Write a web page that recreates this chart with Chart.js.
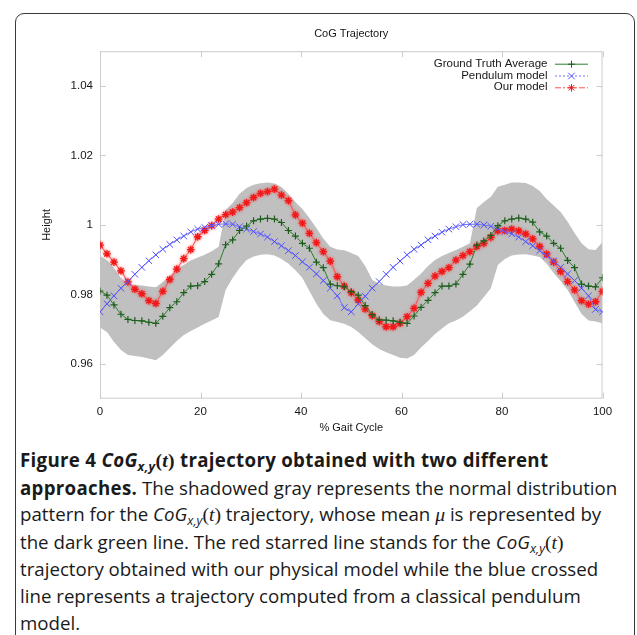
<!DOCTYPE html>
<html>
<head>
<meta charset="utf-8">
<script src="https://cdn.jsdelivr.net/npm/chart.js@4.4.0/dist/chart.umd.min.js"></script>
<style>
    html, body {
        margin: 0;
        padding: 0;
        width: 637px;
        height: 635px;
        overflow: hidden;
        background: #fff;
    }
    .figure-box {
        position: absolute;
        left: 15px;
        top: 13px;
        width: 618px;
        height: 660px;
        border: 1px solid #3a3a3a;
        border-radius: 9px;
    }
    #cogChart {
        position: absolute;
        left: 0;
        top: 0;
    }
    .caption {
        position: absolute;
        left: 20px;
        top: 447px;
        font-family: "Open Sans", Lato, sans-serif;
        font-size: 18.7px;
        line-height: 26.6px;
        color: #1a1a1a;
        white-space: nowrap;
    }
    .caption b {
        letter-spacing: 0.3px;
    }
    .caption sub {
        font-size: 0.68em;
        vertical-align: -0.28em;
        line-height: 0;
    }
    .caption .m {
        font-family: "Liberation Serif", "DejaVu Serif", serif;
        font-size: 1.05em;
    }
</style>
</head>
<body>
<div class="figure-box"></div>
<canvas id="cogChart" width="637" height="440"></canvas>
<div class="caption">
    <b>Figure 4 <i>CoG<sub>x,y</sub></i><span class="m">(<i>t</i>)</span> trajectory obtained with two different</b><br>
    <b>approaches.</b> The shadowed gray represents the normal distribution<br>
    pattern for the <i>CoG<sub>x,y</sub></i><span class="m">(<i>t</i>)</span> trajectory, whose mean <i class="m">μ</i> is represented by<br>
    the dark green line. The red starred line stands for the <i>CoG<sub>x,y</sub></i><span class="m">(<i>t</i>)</span><br>
    trajectory obtained with our physical model while the blue crossed<br>
    line represents a trajectory computed from a classical pendulum<br>
    model.
</div>
<script>
// % of the gait cycle for each sample
const gaitCycle = [
    0, 1.39, 2.78, 4.17, 5.56, 6.94, 8.33, 9.72, 11.11, 12.5,
    13.89, 15.28, 16.67, 18.06, 19.44, 20.83, 22.22, 23.61, 25, 26.39,
    27.78, 29.17, 30.56, 31.94, 33.33, 34.72, 36.11, 37.5, 38.89, 40.28,
    41.67, 43.06, 44.44, 45.83, 47.22, 48.61, 50, 51.39, 52.78, 54.17,
    55.56, 56.94, 58.33, 59.72, 61.11, 62.5, 63.89, 65.28, 66.67, 68.06,
    69.44, 70.83, 72.22, 73.61, 75, 76.39, 77.78, 79.17, 80.56, 81.94,
    83.33, 84.72, 86.11, 87.5, 88.89, 90.28, 91.67, 93.06, 94.44, 95.83,
    97.22, 98.61, 100
];

// Ground truth mean height
const groundTruth = [
    0.9810, 0.9798, 0.9770, 0.9743, 0.9728, 0.9725, 0.9724, 0.9720, 0.9717, 0.9737,
    0.9762, 0.9779, 0.9805, 0.9824, 0.9825, 0.9837, 0.9858, 0.9888, 0.9943, 0.9957,
    0.9984, 0.9997, 1.0012, 1.0017, 1.0019, 1.0017, 1.0007, 0.9984, 0.9968, 0.9947,
    0.9933, 0.9893, 0.9877, 0.9830, 0.9825, 0.9822, 0.9808, 0.9798, 0.9768, 0.9742,
    0.9727, 0.9726, 0.9724, 0.9720, 0.9717, 0.9738, 0.9763, 0.9783, 0.9805, 0.9824,
    0.9824, 0.9830, 0.9858, 0.9887, 0.9942, 0.9954, 0.9970, 0.9998, 1.0012, 1.0017,
    1.0020, 1.0017, 1.0008, 0.9980, 0.9968, 0.9947, 0.9933, 0.9898, 0.9877, 0.9830,
    0.9824, 0.9822, 0.9848
];

// Classical inverted pendulum
const pendulum = [
    0.9750, 0.9773, 0.9796, 0.9818, 0.9837, 0.9858, 0.9878, 0.9897, 0.9914, 0.9930,
    0.9944, 0.9957, 0.9968, 0.9980, 0.9988, 0.9993, 0.9998, 1.0002, 1.0003, 1.0002,
    0.9995, 0.9988, 0.9981, 0.9974, 0.9965, 0.9952, 0.9940, 0.9926, 0.9912, 0.9894,
    0.9878, 0.9859, 0.9840, 0.9818, 0.9796, 0.9762, 0.9750, 0.9773, 0.9795, 0.9818,
    0.9837, 0.9858, 0.9878, 0.9896, 0.9914, 0.9930, 0.9942, 0.9957, 0.9968, 0.9979,
    0.9988, 0.9995, 1.0001, 1.0002, 1.0002, 1.0000, 0.9996, 0.9989, 0.9981, 0.9974,
    0.9965, 0.9952, 0.9940, 0.9926, 0.9912, 0.9896, 0.9878, 0.9859, 0.9840, 0.9818,
    0.9796, 0.9757, 0.9750
];

// Physical model output
const ourModel = [
    0.9942, 0.9917, 0.9893, 0.9868, 0.9836, 0.9815, 0.9802, 0.9782, 0.9774, 0.9809,
    0.9843, 0.9873, 0.9903, 0.9929, 0.9966, 0.9984, 0.9998, 1.0017, 1.0030, 1.0037,
    1.0050, 1.0064, 1.0079, 1.0091, 1.0096, 1.0103, 1.0086, 1.0070, 1.0029, 1.0005,
    0.9976, 0.9949, 0.9923, 0.9896, 0.9851, 0.9824, 0.9805, 0.9784, 0.9758, 0.9739,
    0.9722, 0.9707, 0.9707, 0.9717, 0.9736, 0.9760, 0.9806, 0.9832, 0.9853, 0.9866,
    0.9877, 0.9899, 0.9912, 0.9923, 0.9938, 0.9947, 0.9964, 0.9983, 0.9984, 0.9988,
    0.9983, 0.9974, 0.9960, 0.9938, 0.9916, 0.9893, 0.9866, 0.9837, 0.9813, 0.9782,
    0.9772, 0.9779, 0.9809
];

// Normal distribution band (upper / lower edge)
const bandUpper = [
    0.9911, 0.9899, 0.9876, 0.9847, 0.9830, 0.9827, 0.9826, 0.9823, 0.9821, 0.9836,
    0.9853, 0.9873, 0.9885, 0.9898, 0.9906, 0.9914, 0.9924, 0.9937, 1.0043, 1.0063,
    1.0090, 1.0106, 1.0116, 1.0120, 1.0122, 1.0119, 1.0109, 1.0089, 1.0066, 1.0046,
    1.0020, 0.9991, 0.9961, 0.9937, 0.9929, 0.9927, 0.9919, 0.9911, 0.9882, 0.9842,
    0.9830, 0.9826, 0.9823, 0.9823, 0.9826, 0.9842, 0.9860, 0.9882, 0.9899, 0.9911,
    0.9919, 0.9928, 0.9937, 0.9947, 1.0049, 1.0066, 1.0081, 1.0110, 1.0116, 1.0122,
    1.0122, 1.0121, 1.0112, 1.0098, 1.0075, 1.0056, 1.0037, 1.0009, 0.9977, 0.9947,
    0.9930, 0.9928, 0.9951
];
const bandLower = [
    0.9705, 0.9692, 0.9663, 0.9640, 0.9626, 0.9623, 0.9620, 0.9616, 0.9611, 0.9626,
    0.9646, 0.9666, 0.9683, 0.9695, 0.9705, 0.9716, 0.9725, 0.9735, 0.9813, 0.9847,
    0.9876, 0.9899, 0.9909, 0.9914, 0.9916, 0.9912, 0.9902, 0.9888, 0.9870, 0.9847,
    0.9810, 0.9773, 0.9744, 0.9726, 0.9721, 0.9716, 0.9706, 0.9692, 0.9674, 0.9657,
    0.9643, 0.9634, 0.9626, 0.9618, 0.9616, 0.9626, 0.9647, 0.9666, 0.9686, 0.9702,
    0.9717, 0.9725, 0.9736, 0.9752, 0.9768, 0.9793, 0.9818, 0.9885, 0.9902, 0.9912,
    0.9915, 0.9916, 0.9912, 0.9908, 0.9888, 0.9862, 0.9839, 0.9813, 0.9778, 0.9744,
    0.9725, 0.9722, 0.9717
];

// Axis ticks
const xTicks = [0, 20, 40, 60, 80, 100];
const xTickLabels = ["0", "20", "40", "60", "80", "100"];
const yTicks = [0.96, 0.98, 1, 1.02, 1.04];
const yTickLabels = ["0.96", "0.98", "1", "1.02", "1.04"];

const FONT = '"Liberation Sans", Arial, Helvetica, sans-serif';
const TEXT_COLOR = "#161616";

// Pair x samples with a series
function toPoints(values) {
    return values.map((v, i) => ({ x: gaitCycle[i], y: v }));
}

// Light gray frame with inward tick marks on all four sides
const plotFrame = {
    id: "plotFrame",
    beforeDatasetsDraw(chart) {
        const { ctx, chartArea: a, scales } = chart;
        ctx.save();
        ctx.strokeStyle = "#cccccc";
        ctx.lineWidth = 1;
        ctx.strokeRect(a.left + 0.5, a.top + 0.5, a.right - a.left - 1, a.bottom - a.top - 1);
        ctx.beginPath();
        scales.x.ticks.forEach((t) => {
            const px = Math.round(scales.x.getPixelForValue(t.value)) + 0.5;
            ctx.moveTo(px, a.bottom);
            ctx.lineTo(px, a.bottom - 6);
            ctx.moveTo(px, a.top);
            ctx.lineTo(px, a.top + 6);
        });
        scales.y.ticks.forEach((t) => {
            const py = Math.round(scales.y.getPixelForValue(t.value)) + 0.5;
            ctx.moveTo(a.left, py);
            ctx.lineTo(a.left + 6, py);
            ctx.moveTo(a.right, py);
            ctx.lineTo(a.right - 6, py);
        });
        ctx.stroke();
        ctx.restore();
    },
    // soft glow round the starred points
    beforeDatasetDraw(chart, args) {
        const ds = chart.data.datasets[args.index];
        if (ds.glow) {
            chart.ctx.save();
            chart.ctx.shadowColor = ds.glow;
            chart.ctx.shadowBlur = 3;
        }
    },
    afterDatasetDraw(chart, args) {
        if (chart.data.datasets[args.index].glow) chart.ctx.restore();
    },
};

// gnuplot style key: right aligned text, line sample with point on the right
const plotKey = {
    id: "plotKey",
    afterDatasetsDraw(chart) {
        const { ctx, chartArea: a } = chart;
        ctx.save();
        ctx.font = "11.5px " + FONT;
        ctx.textAlign = "right";
        ctx.textBaseline = "middle";
        let row = 0;
        chart.data.datasets.forEach((ds) => {
            if (!ds.keyDash) return;
            const y = a.top + 12.5 + row * 11.8;
            const x0 = a.right - 47.5;
            const x1 = a.right - 14.5;
            ctx.fillStyle = TEXT_COLOR;
            ctx.fillText(ds.label, a.right - 55, y);

            ctx.strokeStyle = ds.borderColor;
            ctx.lineWidth = 1;
            ctx.setLineDash(ds.keyDash);
            ctx.beginPath();
            ctx.moveTo(x0, y + 0.5);
            ctx.lineTo(x1, y + 0.5);
            ctx.stroke();
            ctx.setLineDash([]);

            ctx.strokeStyle = ds.pointBorderColor;
            Chart.helpers.drawPoint(ctx, {
                pointStyle: ds.pointStyle,
                radius: ds.pointRadius,
                borderWidth: ds.pointBorderWidth,
                rotation: 0,
            }, (x0 + x1) / 2, y + 0.5);
            row++;
        });
        ctx.restore();
    },
};

const ctx = document.getElementById("cogChart").getContext("2d");

new Chart(ctx, {
    type: "line",
    data: {
        datasets: [
            {
                label: "Ground Truth Average",
                data: toPoints(groundTruth),
                borderColor: "#2f7f2f",
                borderWidth: 1,
                pointStyle: "cross",
                pointRadius: 3.5,
                pointBorderWidth: 1.2,
                pointBorderColor: "#1d5c1d",
                pointBackgroundColor: "#1d5c1d",
                keyDash: [],
                fill: false,
            },
            {
                label: "Pendulum model",
                data: toPoints(pendulum),
                borderColor: "#7070ff",
                borderWidth: 1,
                pointStyle: "crossRot",
                pointRadius: 4.6,
                pointBorderWidth: 1,
                pointBorderColor: "#5050ff",
                pointBackgroundColor: "#5050ff",
                keyDash: [2, 2],
                fill: false,
            },
            {
                label: "Our model",
                data: toPoints(ourModel),
                borderColor: "#ff5050",
                borderWidth: 1,
                pointStyle: "star",
                pointRadius: 3.8,
                pointBorderWidth: 1.3,
                pointBorderColor: "#f01818",
                pointBackgroundColor: "#f01818",
                glow: "rgba(255, 60, 60, 0.9)",
                keyDash: [6, 2, 2, 2],
                fill: false,
            },
            {
                label: "band upper",
                data: toPoints(bandUpper),
                borderWidth: 0,
                borderColor: "rgba(0,0,0,0)",
                backgroundColor: "#c0c0c0",
                pointRadius: 0,
                fill: "+1",
            },
            {
                label: "band lower",
                data: toPoints(bandLower),
                borderWidth: 0,
                borderColor: "rgba(0,0,0,0)",
                pointRadius: 0,
                fill: false,
            },
        ],
    },
    options: {
        responsive: false,
        animation: false,
        devicePixelRatio: 1,
        layout: {
            padding: { left: 36, right: 34.5, top: 20, bottom: 5.3 },
        },
        elements: {
            line: { tension: 0 },
        },
        scales: {
            x: {
                type: "linear",
                min: 0,
                max: 100,
                afterBuildTicks: (scale) => {
                    scale.ticks = xTicks.map((v) => ({ value: v }));
                },
                afterFit: (scale) => {
                    scale.height = 36;
                },
                ticks: {
                    callback: (v, i) => xTickLabels[i],
                    color: TEXT_COLOR,
                    font: { family: FONT, size: 11.5 },
                    padding: 6,
                    maxRotation: 0,
                },
                grid: { display: false, drawTicks: false },
                border: { display: false },
                title: {
                    display: true,
                    text: "% Gait Cycle",
                    color: TEXT_COLOR,
                    font: { family: FONT, size: 11 },
                    padding: { top: 0, bottom: 0 },
                },
            },
            y: {
                type: "linear",
                min: 0.95,
                max: 1.05,
                afterBuildTicks: (scale) => {
                    scale.ticks = yTicks.map((v) => ({ value: v }));
                },
                afterFit: (scale) => {
                    scale.width = 64;
                },
                ticks: {
                    callback: (v, i) => yTickLabels[i],
                    color: TEXT_COLOR,
                    font: { family: FONT, size: 11.5 },
                    padding: 7,
                },
                grid: { display: false, drawTicks: false },
                border: { display: false },
                title: {
                    display: true,
                    text: "Height",
                    color: TEXT_COLOR,
                    font: { family: FONT, size: 11 },
                    padding: { top: 4, bottom: 0 },
                },
            },
        },
        plugins: {
            legend: { display: false },
            tooltip: { enabled: false },
            title: {
                display: true,
                fullSize: false,
                text: "CoG Trajectory",
                color: TEXT_COLOR,
                font: { family: FONT, size: 11, weight: "normal" },
                padding: { top: 7, bottom: 11 },
            },
        },
    },
    plugins: [plotFrame, plotKey],
});
</script>
</body>
</html>
